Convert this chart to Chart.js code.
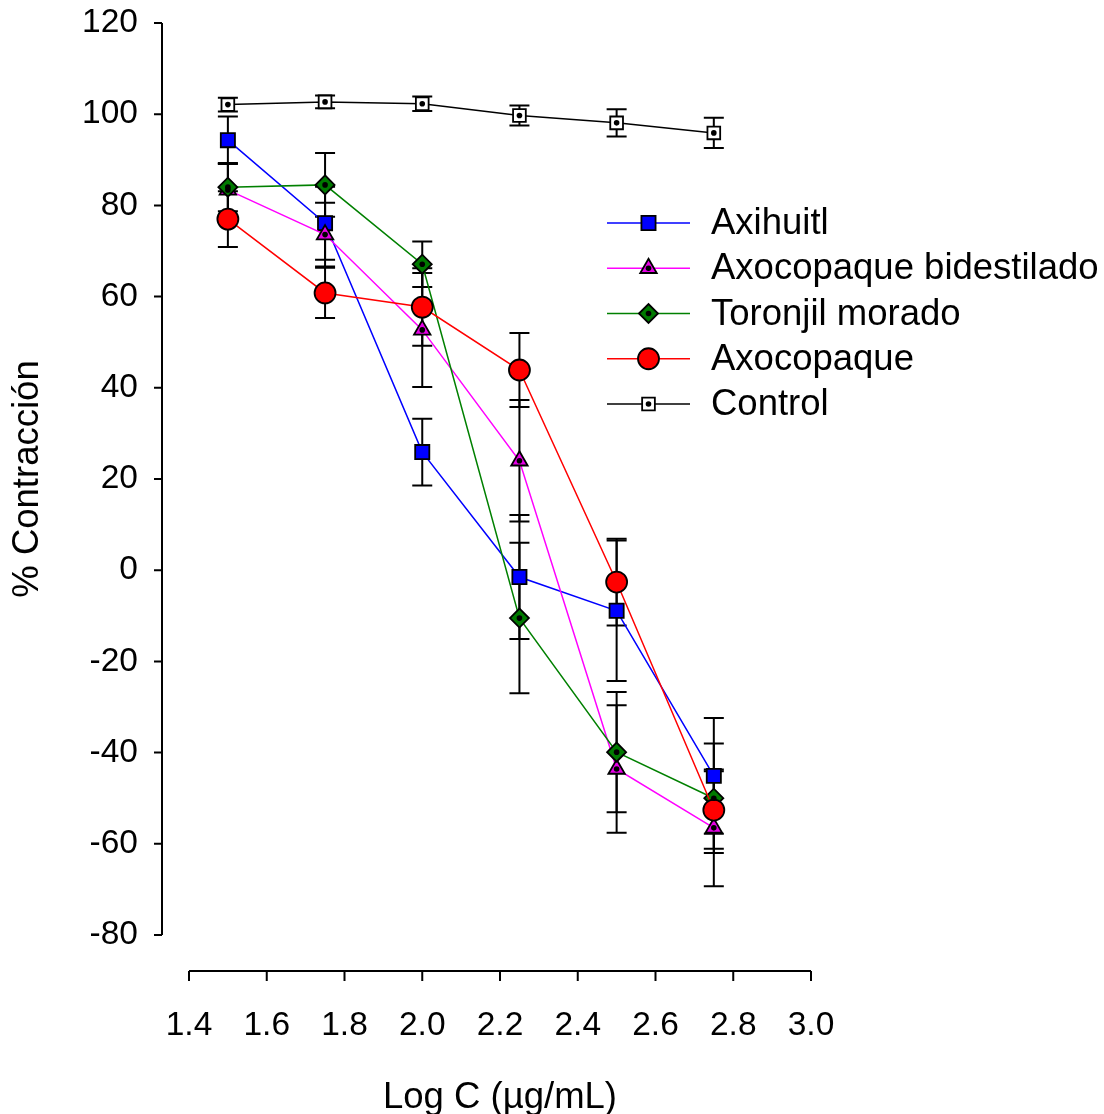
<!DOCTYPE html>
<html>
<head>
<meta charset="utf-8">
<title>% Contracción vs Log C</title>
<script src="https://cdn.jsdelivr.net/npm/chart.js@4.4.0/dist/chart.umd.min.js"></script>
<style>
  html, body { margin: 0; padding: 0; background: #fff; }
  #wrap { width: 1104px; height: 1114px; }
</style>
</head>
<body>
<div id="wrap"><canvas id="chart" width="1104" height="1114"></canvas></div>
<script>
// Concentration-response curves: % contraction vs log concentration.
// Values (mean +/- error bar half-length).

const logC = [1.5, 1.75, 2.0, 2.25, 2.5, 2.75];

const axihuitl        = [94.3, 76.1, 25.9, -1.5, -8.9, -45.1];
const axihuitlErr     = [5.2, 8.0, 7.3, 13.6, 15.4, 12.7];
const bidestilado     = [83.4, 73.6, 52.7, 24.0, -43.6, -56.5];
const bidestiladoErr  = [5.8, 7.0, 12.5, 13.3, 14.0, 12.8];
const toronjil        = [84.0, 84.5, 67.1, -10.5, -39.9, -50.0];
const toronjilErr     = [5.3, 7.0, 5.0, 16.5, 13.2, 12.0];
const axocopaque      = [77.0, 60.8, 57.7, 43.9, -2.6, -52.6];
const axocopaqueErr   = [6.1, 5.5, 8.5, 8.1, 9.5, 8.5];
const control         = [102.1, 102.7, 102.3, 99.7, 98.1, 95.9];
const controlErr      = [1.5, 1.4, 1.6, 2.2, 3.0, 3.3];

const seriesLabels = ["Axihuitl", "Axocopaque bidestilado", "Toronjil morado", "Axocopaque", "Control"];

const FONT = "'Liberation Sans', Arial, sans-serif";
const TICK_SIZE = 33.5;
const TEXT_SIZE = 36.5;   // legend and axis titles are a bit larger

function points(vals) {
  return logC.map((x, i) => ({ x: x, y: vals[i] }));
}

function series(label, vals, errs, style) {
  return Object.assign({
    label: label,
    data: points(vals),
    err: errs,
    borderWidth: 1.5,
    pointBorderColor: "#000",
    pointBorderWidth: 1.8,
    pointHoverRadius: 0,
    tension: 0,
    fill: false,
  }, style);
}

const datasets = [
  series(seriesLabels[0], axihuitl, axihuitlErr, {
    borderColor: "#0000ff", pointBackgroundColor: "#0000ff",
    pointStyle: "rect", pointRadius: 10, order: 5,
  }),
  series(seriesLabels[1], bidestilado, bidestiladoErr, {
    borderColor: "#ff00ff", pointBackgroundColor: "#e600e6",
    pointStyle: "triangle", pointRadius: 9.5, order: 4, dot: true,
  }),
  series(seriesLabels[2], toronjil, toronjilErr, {
    borderColor: "#008000", pointBackgroundColor: "#007a00",
    pointStyle: "rectRot", pointRadius: 9.5, order: 3, dot: true,
  }),
  series(seriesLabels[3], axocopaque, axocopaqueErr, {
    borderColor: "#ff0000", pointBackgroundColor: "#ff0000",
    pointStyle: "circle", pointRadius: 10.5, order: 2,
  }),
  series(seriesLabels[4], control, controlErr, {
    borderColor: "#000", pointBackgroundColor: "#fff",
    pointStyle: "rect", pointRadius: 9, order: 1, dot: true,
  }),
];

// Vertical error bars with caps, drawn under the markers.
const errorBars = {
  id: "errorBars",
  beforeDatasetsDraw(chart) {
    const ctx = chart.ctx;
    const ys = chart.scales.y;
    ctx.save();
    ctx.strokeStyle = "#000";
    ctx.lineWidth = 2;
    chart.data.datasets.forEach((ds, i) => {
      const meta = chart.getDatasetMeta(i);
      meta.data.forEach((pt, j) => {
        const v = ds.data[j].y, e = ds.err[j];
        const top = ys.getPixelForValue(v + e);
        const bot = ys.getPixelForValue(v - e);
        ctx.beginPath();
        ctx.moveTo(pt.x, top); ctx.lineTo(pt.x, bot);
        ctx.moveTo(pt.x - 10, top); ctx.lineTo(pt.x + 10, top);
        ctx.moveTo(pt.x - 10, bot); ctx.lineTo(pt.x + 10, bot);
        ctx.stroke();
      });
    });
    ctx.restore();
  },
};

function drawDot(ctx, x, y) {
  ctx.beginPath();
  ctx.arc(x, y, 2.8, 0, Math.PI * 2);
  ctx.fillStyle = "#000";
  ctx.fill();
}

// Small black dot in the centre of some markers.
const markerDots = {
  id: "markerDots",
  afterDatasetsDraw(chart) {
    const ctx = chart.ctx;
    ctx.save();
    chart.data.datasets.forEach((ds, i) => {
      if (!ds.dot) return;
      chart.getDatasetMeta(i).data.forEach(pt => drawDot(ctx, pt.x, pt.y));
    });
    ctx.restore();
  },
};

// Detached axes (offset from the plotting area), SigmaPlot style.
const detachedAxes = {
  id: "detachedAxes",
  afterDraw(chart) {
    const ctx = chart.ctx;
    const xs = chart.scales.x, ys = chart.scales.y;
    const area = chart.chartArea;
    const axisX = area.left - 27;
    const axisY = area.bottom + 36;
    ctx.save();
    ctx.strokeStyle = "#000";
    ctx.lineWidth = 2;
    ctx.beginPath();
    ctx.moveTo(axisX, ys.getPixelForValue(ys.max));
    ctx.lineTo(axisX, ys.getPixelForValue(ys.min));
    ys.ticks.forEach(t => {
      const py = ys.getPixelForValue(t.value);
      ctx.moveTo(axisX - 8, py); ctx.lineTo(axisX, py);
    });
    ctx.moveTo(xs.getPixelForValue(xs.min), axisY);
    ctx.lineTo(xs.getPixelForValue(xs.max), axisY);
    xs.ticks.forEach(t => {
      const px = xs.getPixelForValue(t.value);
      ctx.moveTo(px, axisY); ctx.lineTo(px, axisY + 10);
    });
    ctx.stroke();
    ctx.restore();
  },
};

// Legend with line-through-marker symbols, placed inside the plot.
const lineLegend = {
  id: "lineLegend",
  afterDraw(chart, args, opts) {
    const ctx = chart.ctx;
    ctx.save();
    ctx.font = TEXT_SIZE + "px " + FONT;
    ctx.textBaseline = "middle";
    chart.data.datasets.forEach((ds, i) => {
      const y = opts.top + i * opts.step;
      ctx.strokeStyle = ds.borderColor;
      ctx.lineWidth = ds.borderWidth;
      ctx.beginPath();
      ctx.moveTo(opts.left, y);
      ctx.lineTo(opts.left + opts.lineLen, y);
      ctx.stroke();
      const cx = opts.left + opts.lineLen / 2;
      ctx.fillStyle = ds.pointBackgroundColor;
      ctx.strokeStyle = ds.pointBorderColor;
      ctx.lineWidth = ds.pointBorderWidth;
      Chart.helpers.drawPoint(ctx, { pointStyle: ds.pointStyle, radius: ds.pointRadius, rotation: 0, borderWidth: ds.pointBorderWidth }, cx, y);
      if (ds.dot) drawDot(ctx, cx, y);
      ctx.fillStyle = "#000";
      ctx.fillText(ds.label, opts.left + opts.lineLen + 21, y + 1);
    });
    ctx.restore();
  },
};

const tickFont = { family: FONT, size: TICK_SIZE };
const titleFont = { family: FONT, size: TEXT_SIZE };

new Chart(document.getElementById("chart"), {
  type: "line",
  data: { datasets: datasets },
  plugins: [errorBars, markerDots, detachedAxes, lineLegend],
  options: {
    responsive: false,
    animation: false,
    events: [],
    layout: { padding: { top: 23, right: 293, left: 0, bottom: 0 } },
    plugins: {
      legend: { display: false },
      tooltip: { enabled: false },
      lineLegend: { left: 607, top: 223, step: 45.25, lineLen: 83 },
    },
    scales: {
      x: {
        type: "linear",
        min: 1.4, max: 3.0,
        border: { display: false },
        grid: { display: false, drawTicks: false },
        ticks: {
          stepSize: 0.2, color: "#000", font: tickFont, padding: 71,
          maxRotation: 0, autoSkip: false,
          callback: v => Number(v).toFixed(1),
        },
        title: {
          display: true, text: "Log C (µg/mL)", color: "#000",
          font: titleFont, padding: { top: 0, bottom: -6 },
        },
        afterFit(scale) {
          scale.height = 179;
          scale.paddingLeft = 0; scale.paddingRight = 0;
        },
      },
      y: {
        type: "linear",
        min: -80, max: 120,
        border: { display: false },
        grid: { display: false, drawTicks: false },
        ticks: { stepSize: 20, color: "#000", font: tickFont, padding: 51 },
        title: {
          display: true, text: "% Contracción", color: "#000",
          font: titleFont, padding: { top: 6, bottom: 0 },
        },
        afterFit(scale) {
          scale.width = 189;
          scale.paddingTop = 0; scale.paddingBottom = 0;
        },
      },
    },
  },
});
</script>
</body>
</html>
